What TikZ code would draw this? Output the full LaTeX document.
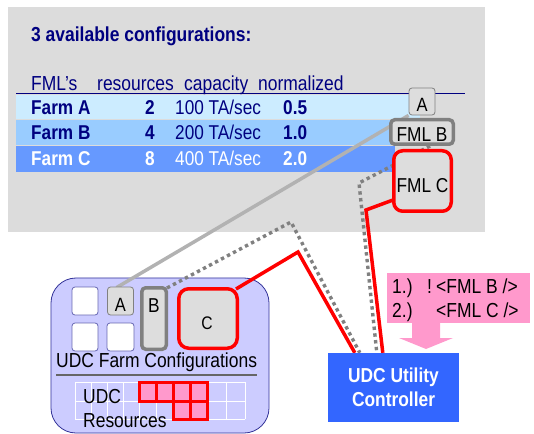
\documentclass[tikz,border=0pt]{standalone}
\usepackage{fontspec}
\setmainfont{Liberation Sans}[FakeStretch=0.86]
\usetikzlibrary{calc}
\definecolor{panelgray}{RGB}{220,220,220}
\definecolor{navy}{RGB}{0,0,128}
\definecolor{rowa}{RGB}{204,236,255}
\definecolor{rowb}{RGB}{153,204,255}
\definecolor{rowc}{RGB}{102,153,255}
\definecolor{lav}{RGB}{204,204,255}
\definecolor{lavborder}{RGB}{51,51,153}
\definecolor{ctrlblue}{RGB}{51,102,255}
\definecolor{pinkc}{RGB}{255,153,204}
\definecolor{boxgray}{RGB}{221,221,221}
\definecolor{midgray}{RGB}{128,128,128}
\definecolor{lightline}{RGB}{178,178,178}
\definecolor{sepgray}{RGB}{102,102,102}
\pgfdeclarelayer{bg}
\pgfdeclarelayer{lines}
\pgfsetlayers{bg,lines,main}
\begin{document}
\begin{tikzpicture}[x=1bp,y=-1bp,
  txt/.style={inner sep=0pt,anchor=base west,font=\fontsize{20.3bp}{24bp}\selectfont},
  rowtxt/.style={inner sep=0pt,anchor=base west,font=\fontsize{20bp}{24bp}\selectfont},
  rowbold/.style={inner sep=0pt,anchor=base west,font=\fontsize{20bp}{24bp}\selectfont\bfseries},
  lbl/.style={inner sep=0pt,anchor=center,font=\fontsize{20.1bp}{24bp}\selectfont},
  smallbox/.style={draw=midgray,line width=0.8bp,fill=boxgray,rounded corners=3bp,inner sep=0pt,minimum width=26bp,minimum height=27bp},
  whitebox/.style={draw=lavborder!75,line width=0.8bp,fill=white,rounded corners=3bp,inner sep=0pt,minimum width=26bp,minimum height=28bp},
  graybox/.style={draw=midgray,line width=3.5bp,fill=boxgray,rounded corners=4bp,inner sep=0pt},
  redbox/.style={draw=red,line width=3.5bp,fill=boxgray,rounded corners=9bp,inner sep=0pt},
  graylink/.style={draw=lightline,line width=3.5bp},
  dotlink/.style={draw=midgray,line width=3.4bp,dash pattern=on 3.4bp off 3.4bp},
  redlink/.style={draw=red,line width=3.5bp,line join=miter},
  cell/.style={draw=red,line width=3bp,fill=pinkc}
]
\useasboundingbox (0,0) rectangle (534,434);

% ---------- backgrounds ----------
\begin{pgfonlayer}{bg}
  \fill[panelgray] (8,7) rectangle (485,232);
  \fill[rowa] (16,95) rectangle (420,119.5);
  \fill[rowb] (16,120.5) rectangle (395,145.5);
  \fill[rowc] (16,146.5) rectangle (395,172);
  \draw[navy,line width=1bp] (16,94) -- (465,94);
  \node[draw=lavborder,fill=lav,line width=0.8bp,rounded corners=25bp,inner sep=0pt,
        minimum width=218bp,minimum height=155bp] (udcpanel) at (160,355.5) {};
  \draw[sepgray,line width=1.5bp] (56,375) -- (257,375);
  \foreach \x in {75,91,107,123,139,156,173,190,207,226,245}
    \draw[white,line width=1bp] (\x,382) -- (\x,419);
  \foreach \y in {382,401,419}
    \draw[white,line width=1bp] (75,\y) -- (245,\y);
  \foreach \x in {139,156,173,190}
    \draw[cell] (\x,382) rectangle ++(17,19);
  \foreach \x in {173,190}
    \draw[cell] (\x,401) rectangle ++(17,18);
\end{pgfonlayer}

% ---------- table text ----------
\node[txt,font=\fontsize{20.3bp}{24bp}\selectfont\bfseries,text=navy] (title) at (31,42) {3 available configurations:};
\node[txt,text=navy] (hfml) at (31,91) {FML’s};
\node[txt,text=navy] (hres) at (97,91) {resources};
\node[txt,text=navy] (hcap) at (184,91) {capacity};
\node[txt,text=navy] (hnorm) at (258,91) {normalized};

\node[rowbold,text=navy] (fa) at (31,115) {Farm A};
\node[rowbold,text=navy,anchor=base east] (na) at (155,115) {2};
\node[rowtxt,text=navy] (ca) at (175,115) {100 TA/sec};
\node[rowbold,text=navy] (va) at (283,115) {0.5};

\node[rowbold,text=navy] (fb) at (31,140) {Farm B};
\node[rowbold,text=navy,anchor=base east] (nb) at (155,140) {4};
\node[rowtxt,text=navy] (cb) at (175,140) {200 TA/sec};
\node[rowbold,text=navy] (vb) at (283,140) {1.0};

\node[rowbold,text=white] (fc) at (31,166) {Farm C};
\node[rowbold,text=white,anchor=base east] (nc) at (155,166) {8};
\node[rowtxt,text=white] (cc) at (175,166) {400 TA/sec};
\node[rowbold,text=white] (vc) at (283,166) {2.0};

% ---------- boxes top ----------
\node[smallbox] (topA) at (422,101.5) {};
\node[lbl,font=\fontsize{19.2bp}{22bp}\selectfont] (topAt) at (422,105) {A};
\node[graybox,minimum width=62.5bp,minimum height=24.5bp] (fmlB) at (422,132) {};
\node[lbl] (fmlBt) at (422,134.5) {FML B};
\node[redbox,minimum width=57.5bp,minimum height=60.5bp] (fmlC) at (422.5,181) {};
\node[lbl] (fmlCt) at (422.5,186) {FML C};

% ---------- boxes bottom ----------
\node[whitebox] (w1) at (85,301) {};
\node[whitebox] (w2) at (85,337) {};
\node[smallbox,minimum height=28bp] (lowA) at (120.5,301) {};
\node[lbl,font=\fontsize{19.2bp}{22bp}\selectfont] (lowAt) at (120.5,304.5) {A};
\node[whitebox,minimum width=27bp] (w3) at (120.5,337) {};
\node[graybox,minimum width=24.5bp,minimum height=61.5bp] (lowB) at (154,318.5) {};
\node[lbl] (lowBt) at (154,306) {B};
\node[redbox,rounded corners=10bp,minimum width=58.5bp,minimum height=59.5bp] (lowC) at (208,318.5) {};
\node[lbl,font=\fontsize{18.2bp}{21bp}\selectfont] (lowCt) at (207,323) {C};

\node[txt] (farmconf) at (56,367) {UDC Farm Configurations};
\node[txt] (udcres1) at (83,403) {UDC};
\node[txt] (udcres2) at (83,427) {Resources};

% ---------- controller and callout ----------
\node[fill=ctrlblue,text=white,inner sep=0pt,minimum width=131bp,minimum height=69bp,
      align=center,font=\fontsize{20.2bp}{24bp}\selectfont\bfseries] (ctrl) at (393.5,387.5)
      {UDC Utility\\Controller};

\node[fill=pinkc,inner sep=0pt,minimum width=143bp,minimum height=50bp] (callout) at (458.5,298) {};
\fill[pinkc] (412,322) -- (412,338) -- (399,338) -- (426,349) -- (453,338) -- (440,338) -- (440,322) -- cycle;
\node[txt] (c1n) at (392,293) {1.)};
\node[txt] (c1x) at (427,293) {!};
\node[txt] (c1t) at (436,293) {<FML B />};
\node[txt] (c2n) at (392,317) {2.)};
\node[txt] (c2t) at (436,317) {<FML C />};

% ---------- connectors ----------
\coordinate (k1) at (359,183);
\coordinate (k2) at (291,222);
\coordinate (k3) at (298,252);
\coordinate (k4) at (366,210);
\begin{pgfonlayer}{lines}
  \draw[graylink] (topA.south west) -- ($(lowA.north)+(-4,1)$);
  \draw[dotlink] ($(fmlB.south)+(8,0)$) -- (k1) -- ($(ctrl.north west)+(49,0)$);
  \draw[dotlink] ($(lowB.north east)+(-1,2)$) -- (k2) -- ($(ctrl.north west)+(32,0)$);
  \draw[redlink] ($(lowC.north east)+(-3,2)$) -- (k3) -- ($(ctrl.north west)+(27,0)$);
  \draw[redlink] ($(fmlC.south west)+(1,-13)$) -- (k4) -- ($(ctrl.north west)+(55,0)$);
\end{pgfonlayer}
\end{tikzpicture}
\end{document}
